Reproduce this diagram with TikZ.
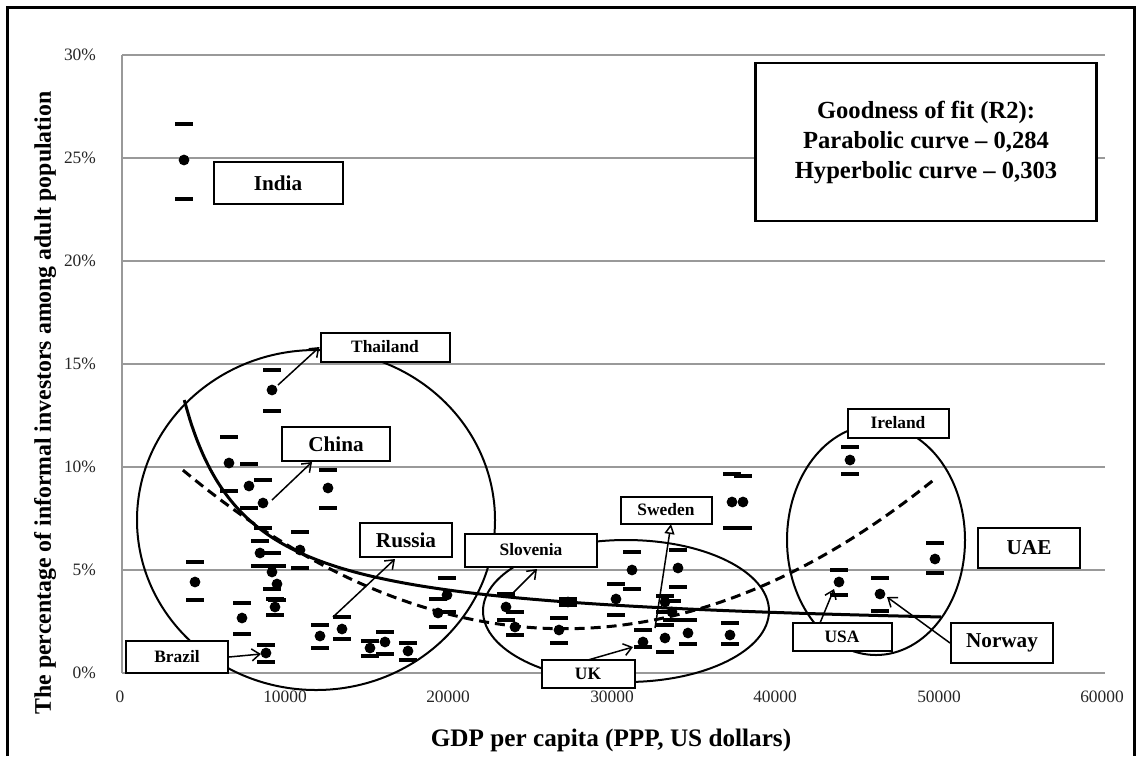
\documentclass[tikz,border=0pt]{standalone}
\usepackage{fontspec}
\setmainfont{Liberation Serif}
\usetikzlibrary{arrows.meta}
\newcommand\dpt[4]{%
  \fill (#1,#2) circle[radius=2.7pt];
  \fill (#1-9,#3-2) rectangle (#1+9,#3+2);
  \fill (#1-9,#4-2) rectangle (#1+9,#4+2);}
\begin{document}
\begin{tikzpicture}[x=0.5pt,y=-0.5pt,
  gridl/.style={draw=black!40, line width=0.6pt},
  lbl/.style={draw, fill=white, line width=1pt, inner sep=0pt, font=\bfseries\fontsize{8.7}{10}\selectfont},
  lblbig/.style={lbl, font=\bfseries\fontsize{10.6}{12}\selectfont},
  bx/.style 2 args={minimum width=#1*0.5pt, minimum height=#2*0.5pt},
  tick/.style={font=\fontsize{8.7}{10}\selectfont, text=black!85},
  conn/.style={line width=0.75pt, -{Straight Barb[length=4pt,width=6pt]}},
  ring/.style={line width=1pt},
  fitsolid/.style={line width=1.5pt},
  fitdash/.style={line width=1.5pt, dash pattern=on 5pt off 3pt}]
\useasboundingbox (0,0) rectangle (1138,756);
% frame
\draw[line width=1.5pt] (7,756) -- (7,7) -- (1134,7) -- (1134,756);
% grid
\foreach \p in {5,10,...,30} \draw[gridl] (122,673-20.6*\p) -- (1105,673-20.6*\p);
\draw[gridl] (122,673) -- (1105,673);
\draw[gridl] (122,55) -- (122,673);
% tick labels
\node[tick, anchor=east] (y0) at (103,673) {0\%};
\node[tick, anchor=east] (y5) at (103,570) {5\%};
\node[tick, anchor=east] (y10) at (103,467) {10\%};
\node[tick, anchor=east] (y15) at (103,364) {15\%};
\node[tick, anchor=east] (y20) at (103,261) {20\%};
\node[tick, anchor=east] (y25) at (103,158) {25\%};
\node[tick, anchor=east] (y30) at (103,55) {30\%};
\node[tick] (x0) at (120,697) {0};
\node[tick] (x1) at (285,697) {10000};
\node[tick] (x2) at (448,697) {20000};
\node[tick] (x3) at (612,697) {30000};
\node[tick] (x4) at (775,697) {40000};
\node[tick] (x5) at (939,697) {50000};
\node[tick] (x6) at (1102,697) {60000};
% axis titles
\node[font=\bfseries\fontsize{11.9}{14}\selectfont, rotate=90] (ytitle) at (45,403) {The percentage of informal investors among adult population};
\node[font=\bfseries\fontsize{12.6}{14}\selectfont] (xtitle) at (611,740) {GDP per capita (PPP, US dollars)};
% ellipses
\draw[ring] (316,520) ellipse [x radius=179, y radius=170];
\draw[ring] (626,611) ellipse [x radius=143, y radius=71];
\draw[ring] (876,540) ellipse [x radius=89, y radius=115];
% fitted curves
\draw[fitsolid] plot[domain=3.8:50, samples=120, smooth] ({122+16.38*\x},{673-20.6*(1.854+43.306/\x)});
\draw[fitdash] plot[domain=3.72:49.75, samples=120, smooth] ({122+16.38*\x},{673-20.6*(2.15+0.0142*(\x-27)^2)});
% data points: x, y, upper mark, lower mark
\dpt{184}{160}{124}{199}
\dpt{272}{390}{370}{411}
\dpt{229}{463}{437}{491}
\dpt{249}{486}{464}{508}
\dpt{263}{503}{480}{528}
\dpt{328}{488}{470}{508}
\dpt{195}{582}{562}{600}
\dpt{242}{618}{603}{634}
\dpt{300}{550}{532}{568}
\dpt{260}{553}{541}{566}
\dpt{272}{572}{553}{589}
\dpt{277}{584}{566}{600}
\dpt{275}{607}{599}{615}
\dpt{266}{653}{645}{662}
\dpt{320}{636}{625}{648}
\dpt{342}{629}{617}{639}
\dpt{370}{648}{641}{656}
\dpt{385}{642}{632}{654}
\dpt{408}{651}{643}{660}
\dpt{447}{595}{578}{612}
\dpt{438}{613}{599}{627}
\dpt{506}{607}{594}{620}
\dpt{515}{627}{612}{635}
\dpt{568}{602}{599}{605}
\dpt{559}{630}{618}{643}
\dpt{616}{599}{584}{615}
\dpt{632}{570}{552}{589}
\dpt{678}{568}{550}{587}
\dpt{665}{602}{596}{612}
\dpt{672}{612}{601}{620}
\dpt{643}{642}{630}{647}
\dpt{665}{638}{625}{652}
\dpt{688}{633}{620}{644}
\dpt{730}{635}{623}{644}
\dpt{732}{502}{474}{528}
\dpt{743}{502}{476}{528}
\dpt{850}{460}{447}{474}
\dpt{839}{582}{570}{595}
\dpt{880}{594}{578}{611}
\dpt{935}{559}{543}{573}
% label boxes
\node[lblbig, bx={129}{42}] (india) at (278,183) {India};
\node[lbl, bx={129}{29}] (thai) at (385,347) {Thailand};
\node[lblbig, bx={108}{34}] (china) at (336,444) {China};
\node[lblbig, bx={92}{34}] (russia) at (406,540) {Russia};
\node[lbl, bx={102}{32}] (brazil) at (177,657) {Brazil};
\node[lbl, bx={132}{33}] (slov) at (531,550) {Slovenia};
\node[lbl, bx={91}{27}] (swed) at (666,510) {Sweden};
\node[lbl, bx={93}{28}] (uk) at (588,674) {UK};
\node[lbl, bx={101}{29}] (irl) at (898,423) {Ireland};
\node[lblbig, bx={102}{40}] (uae) at (1029,548) {UAE};
\node[lbl, bx={99}{28}] (usa) at (842,637) {USA};
\node[lblbig, bx={102}{40}] (nor) at (1002,643) {Norway};
\node[draw, fill=white, line width=1.2pt, bx={341}{158}, align=center, font=\bfseries\fontsize{12.3}{15}\selectfont] (gof) at (926,142) {Goodness of fit (R2):\\Parabolic curve -- 0,284\\Hyperbolic curve -- 0,303};
% connector end points
\coordinate (thS) at (278,385);
\coordinate (chS) at (272,500);
\coordinate (chE) at (312,462);
\coordinate (ruS) at (333,617);
\coordinate (ruE) at (395,559);
\coordinate (brE) at (261,654);
\coordinate (slS) at (513,593);
\coordinate (slE) at (537,569);
\coordinate (swS) at (655,628);
\coordinate (swE) at (671,524);
\coordinate (ukS) at (588,660);
\coordinate (ukE) at (633,647);
\coordinate (usS) at (820,623);
\coordinate (usE) at (834,589);
\coordinate (noE) at (887,597);
% connectors
\draw[conn] (thS) -- (thai.west);
\draw[conn] (chS) -- (chE);
\draw[conn] (ruS) -- (ruE);
\draw[conn] (brazil.east) -- (brE);
\draw[conn] (slS) -- (slE);
\draw[line width=0.75pt, -{Triangle[open,length=5pt,width=5pt]}] (swS) -- (swE);
\draw[conn] (ukS) -- (ukE);
\draw[conn] (usS) -- (usE);
\draw[conn] (nor.west) -- (noE);
\end{tikzpicture}
\end{document}
